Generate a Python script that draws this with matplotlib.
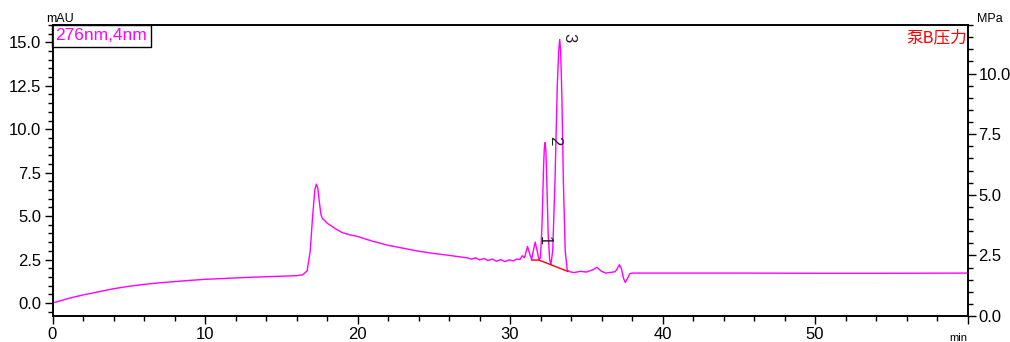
"""
HPLC chromatogram, 276nm,4nm channel, with pump B pressure axis.
"""
import matplotlib
matplotlib.use("Agg")
import matplotlib.pyplot as plt
from matplotlib.ticker import MultipleLocator, FormatStrFormatter

# retention time (min) and absorbance (mAU)
time_min = [0, 0.5, 1, 1.5, 2, 3, 4, 5, 6, 7, 8, 9, 10, 11, 12, 13, 14, 15, 16,
            16.4, 16.7, 16.9, 17.05, 17.2, 17.3, 17.4, 17.5, 17.6, 17.7, 17.85,
            18.0, 18.5, 19, 19.5, 20, 21, 22, 23, 24, 25, 26, 27,
            27.2, 27.45, 27.75, 28.0, 28.3, 28.55, 28.85, 29.1, 29.4, 29.65,
            29.95, 30.2, 30.45, 30.65, 30.8, 30.95, 31.15, 31.3, 31.42, 31.55,
            31.65, 31.78, 31.9, 32.0, 32.1, 32.2, 32.25, 32.3, 32.35, 32.4, 32.5,
            32.6, 32.68, 32.8, 32.95, 33.1, 33.2, 33.26, 33.32, 33.4, 33.5,
            33.62, 33.75, 33.9, 34.2, 34.6, 35.0, 35.4, 35.7, 36.0, 36.3, 36.9,
            37.05, 37.17, 37.3, 37.45, 37.56, 37.7, 37.85, 38.0, 40, 45, 50, 55, 60]
signal_mau = [0.0, 0.12, 0.25, 0.36, 0.46, 0.64, 0.82, 0.96, 1.07, 1.16, 1.23, 1.3, 1.36,
              1.4, 1.44, 1.48, 1.51, 1.54, 1.57,
              1.62, 1.85, 3.0, 4.9, 6.5, 6.84, 6.6, 5.8, 5.1, 4.85, 4.75,
              4.6, 4.3, 4.05, 3.92, 3.83, 3.55, 3.32, 3.15, 2.98, 2.85, 2.74, 2.62,
              2.6, 2.52, 2.6, 2.48, 2.56, 2.44, 2.53, 2.4, 2.5, 2.38,
              2.48, 2.42, 2.53, 2.5, 2.72, 2.6, 3.25, 2.8, 2.5, 3.1,
              3.5, 3.0, 2.5, 2.6, 4.5, 7.8, 8.9, 9.23, 8.8, 7.5, 4.0,
              2.5, 2.2, 3.0, 7.0, 12.5, 14.6, 15.17, 14.5, 12.0, 7.0,
              3.0, 1.9, 1.8, 1.75, 1.82, 1.78, 1.9, 2.05, 1.82, 1.72, 1.8,
              2.0, 2.2, 2.0, 1.4, 1.18, 1.4, 1.68, 1.72, 1.72, 1.72, 1.71, 1.71, 1.72]

# integration baseline drawn under peaks 1-3
baseline_t = [31.42, 31.9, 33.78]
baseline_y = [2.47, 2.47, 1.82]

# detected peaks (apex time, apex height)
peak_names = ["1", "2", "3"]
peak_t = [31.65, 32.3, 33.26]
peak_h = [3.5, 9.23, 15.17]

W, H = 1010, 342
MAGENTA = "#ff00ff"


def main():
    plt.rcParams['font.family'] = ['Liberation Sans', 'DejaVu Sans']
    fig = plt.figure(figsize=(W / 100, H / 100), dpi=100)
    ax = fig.add_axes([52.5 / W, 26 / H, 915 / W, 291 / H])

    ax.plot(time_min, signal_mau, color=MAGENTA, lw=1.0, zorder=3)
    ax.plot(baseline_t, baseline_y, color="#ff0000", lw=1.0, zorder=4)

    for name, t, h in zip(peak_names, peak_t, peak_h):
        ax.text(t + 0.62, h + 0.1, name, rotation=270, fontsize=12,
                ha="center", va="center", color="#222222", zorder=5)

    ax.set_xlim(0, 60)
    ax.set_ylim(-0.75, 16.0)
    ax.xaxis.set_minor_locator(MultipleLocator(2))
    ax.yaxis.set_major_locator(MultipleLocator(2.5))
    ax.yaxis.set_minor_locator(MultipleLocator(0.5))
    ax.yaxis.set_major_formatter(FormatStrFormatter('%.1f'))
    ax.set_xticks(range(0, 61, 10))
    ax.set_xticklabels(["0", "10", "20", "30", "40", "50", ""])

    ax2 = ax.twinx()
    ax2.set_ylim(0, 12)
    ax2.set_yticks([0, 2.5, 5, 7.5, 10])
    ax2.yaxis.set_minor_locator(MultipleLocator(0.5))
    ax2.yaxis.set_major_formatter(FormatStrFormatter('%.1f'))

    for a in (ax, ax2):
        a.tick_params(which='major', direction='out', length=6, width=1, labelsize=12, pad=2)
        a.tick_params(which='minor', direction='out', length=3.5, width=1)
        for s in a.spines.values():
            s.set_linewidth(1.2)

    # channel box (top-left corner) and pressure label
    ax.annotate("276nm,4nm", xy=(0, 1), xycoords="axes fraction",
                xytext=(2, -2.5), textcoords="offset points",
                fontsize=12.5, color=MAGENTA, ha="left", va="top", zorder=6,
                bbox=dict(boxstyle="square,pad=0.2", fc="white", ec="black", lw=1))
    ax.text(0.999, 0.985, "泵B压力", transform=ax.transAxes, fontsize=12, color="#ff0000",
            ha="right", va="top", family=['Noto Sans CJK SC', 'DejaVu Sans'], zorder=6)

    fig.text(46 / W, 1 - 22 / H, "mAU", fontsize=9, ha="left", va="baseline")
    fig.text(977 / W, 1 - 22 / H, "MPa", fontsize=9, ha="left", va="baseline")
    fig.text(967 / W, 1 - 341 / H, "min", fontsize=8, ha="right", va="baseline")

    fig.savefig("out.png", dpi=100)
    plt.close(fig)


if __name__ == "__main__":
    main()
